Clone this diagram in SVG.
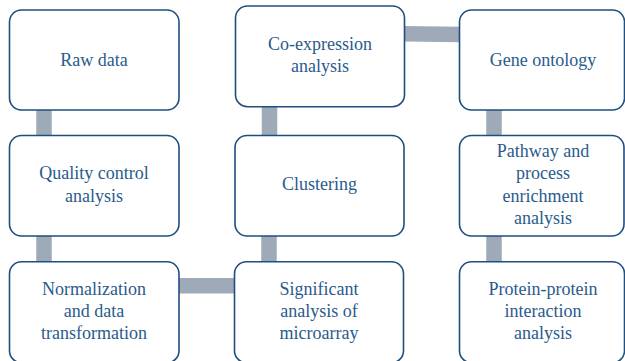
<svg xmlns="http://www.w3.org/2000/svg" width="625" height="361" viewBox="0 0 625 361">
<style>
.box{fill:#fff;stroke:#1d4f80;stroke-width:1.6}
.t{font-family:'Liberation Serif','Times New Roman',Times,serif;font-size:18px;fill:#2a5b8c;text-anchor:middle}
.c{stroke:#9eaab7;stroke-width:15.5;fill:none}
</style>
<rect width="625" height="361" fill="#fff"/>
<g id="connectors">
<line class="c" x1="44" y1="110" x2="44" y2="136"/>
<line class="c" x1="44" y1="236" x2="44" y2="262"/>
<line class="c" x1="179" y1="285.7" x2="235" y2="285.7"/>
<line class="c" x1="269.5" y1="106" x2="269.5" y2="136"/>
<line class="c" x1="269" y1="236" x2="269" y2="262"/>
<line class="c" x1="404" y1="33.7" x2="460" y2="34.5"/>
<line class="c" x1="494" y1="110" x2="494" y2="136"/>
<line class="c" x1="494" y1="236" x2="494" y2="262"/>
</g>
<g id="raw-data">
<rect class="box" x="9.5" y="10" width="169.5" height="100" rx="12"/>
<text class="t" x="94" y="65.5">Raw data</text>
</g>
<g id="quality-control">
<rect class="box" x="9.5" y="135.5" width="169.5" height="100.5" rx="12"/>
<text class="t" x="94" y="179.3">Quality control</text>
<text class="t" x="94" y="201.7">analysis</text>
</g>
<g id="normalization">
<rect class="box" x="9.5" y="261.7" width="169.5" height="101" rx="12"/>
<text class="t" x="94" y="294.5">Normalization</text>
<text class="t" x="94" y="316.5">and data</text>
<text class="t" x="94" y="338.5">transformation</text>
</g>
<g id="co-expression">
<rect class="box" x="235.5" y="6" width="169" height="100.7" rx="12"/>
<text class="t" x="320" y="50">Co-expression</text>
<text class="t" x="320" y="71.7">analysis</text>
</g>
<g id="clustering">
<rect class="box" x="235" y="135.5" width="169" height="100.5" rx="12"/>
<text class="t" x="319.5" y="190">Clustering</text>
</g>
<g id="significant">
<rect class="box" x="234.5" y="261.7" width="169" height="101" rx="12"/>
<text class="t" x="319" y="295">Significant</text>
<text class="t" x="319" y="316.7">analysis of</text>
<text class="t" x="319" y="338.7">microarray</text>
</g>
<g id="gene-ontology">
<rect class="box" x="459.5" y="10" width="165" height="100" rx="12"/>
<text class="t" x="543" y="65.5">Gene ontology</text>
</g>
<g id="pathway">
<rect class="box" x="459.5" y="135.5" width="164.5" height="100.5" rx="12"/>
<text class="t" x="543" y="156.7">Pathway and</text>
<text class="t" x="543" y="179.2">process</text>
<text class="t" x="543" y="201.6">enrichment</text>
<text class="t" x="543" y="224">analysis</text>
</g>
<g id="protein-protein">
<rect class="box" x="459.5" y="261.7" width="165" height="101" rx="12"/>
<text class="t" x="543" y="295">Protein-protein</text>
<text class="t" x="543" y="316.7">interaction</text>
<text class="t" x="543" y="338.7">analysis</text>
</g>
</svg>
